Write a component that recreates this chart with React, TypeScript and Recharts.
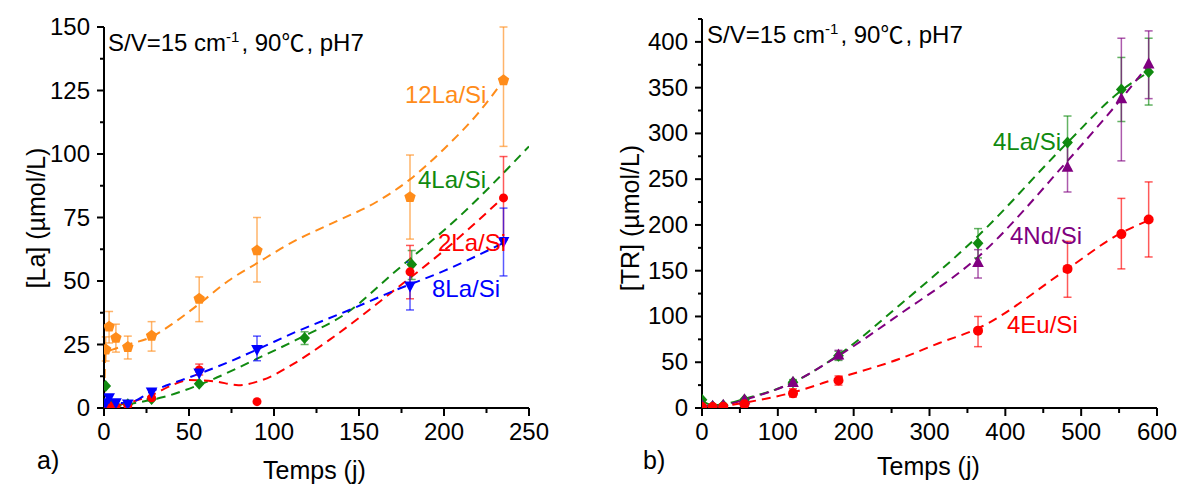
import React from "react";
import { ComposedChart, Line, Scatter, XAxis, YAxis, ErrorBar } from "recharts";

const FONT = "'Liberation Sans', Arial, sans-serif";

// ---- panel a) : [La] vs time ----
const aTicksX = [0, 25, 50, 75, 100, 125, 150, 175, 200, 225, 250];
const aMajorX = [0, 50, 100, 150, 200, 250];
const aTicksY = [0, 12.5, 25, 37.5, 50, 62.5, 75, 87.5, 100, 112.5, 125, 137.5, 150];
const aMajorY = [0, 25, 50, 75, 100, 125, 150];

const la12T = [0, 1, 3, 7, 14, 28, 56, 90, 180, 235];
const la12V = [1, 23, 32, 27.6, 24, 28.4, 43, 62, 83, 129];
const la12Lo = [null, 18.5, 25.6, 22, 19.3, 22.4, 34, 49.6, 66.5, 103];
const la12Hi = [null, 28, 38, 33, 28.3, 34, 51.6, 75, 99.6, 150];

const la4T = [1, 3, 7, 14, 28, 56, 118, 181];
const la4V = [8.7, 2, 1, 1.5, 3.5, 9.5, 27.6, 56.5];
const la4Lo = [null, null, null, null, null, null, 25, 50.6];
const la4Hi = [null, null, null, null, null, null, 30, 62];

const la2T = [1, 3, 7, 14, 28, 56, 90, 180, 235];
const la2V = [1, 1, 0.5, 1, 4, 15, 2.5, 53.6, 82.7];
const la2Lo = [null, null, null, null, null, 13, null, 43, 66];
const la2Hi = [null, null, null, null, null, 17.3, null, 64, 99];

const la8T = [1, 3, 7, 14, 28, 56, 90, 180, 235];
const la8V = [2, 4, 2, 1.6, 6.3, 13.8, 23, 48, 65.5];
const la8Lo = [null, null, null, null, null, null, 18.6, 38.6, 52];
const la8Hi = [null, null, null, null, null, null, 28.3, 57.4, 78.7];

// fitted curves
const fit12T = [0, 1, 5, 14, 28, 40, 56, 73, 90, 110, 135, 160, 180, 200, 220, 235];
const fit12V = [0, 22, 23, 25, 28, 33, 41, 50, 57, 65, 73, 81, 90, 102, 116, 129];
const fit4T = [5, 14, 35, 60, 91, 113, 144, 170, 210, 250];
const fit4V = [0.5, 1.5, 4.3, 10.2, 19.7, 26.8, 38, 53, 76, 103];
const fit2T = [0, 7, 14, 28, 40, 50, 65, 79, 93, 113, 133, 170, 200, 235];
const fit2V = [0, 1, 2, 5, 9, 11, 10.5, 9, 11, 18, 27, 46, 62, 83];
const fit8T = [2, 7, 14, 28, 56, 73, 90, 113, 144, 170, 200, 235];
const fit8V = [4, 2, 2, 6.5, 13.5, 18, 23, 30, 38.5, 46, 54, 65];

// ---- panel b) : [TR] vs time ----
const bTicksX = [0, 50, 100, 150, 200, 250, 300, 350, 400, 450, 500, 550, 600];
const bMajorX = [0, 100, 200, 300, 400, 500, 600];
const bTicksY = [0, 25, 50, 75, 100, 125, 150, 175, 200, 225, 250, 275, 300, 325, 350, 375, 400, 425];
const bMajorY = [0, 50, 100, 150, 200, 250, 300, 350, 400];

const b4LaT = [0, 14, 28, 56, 120, 180, 364, 482, 553, 589];
const b4LaV = [9, 2, 3, 9, 28, 57, 180, 290, 348, 367];
const b4LaLo = [null, null, null, null, 25, 52, 164, 261, 313, 331];
const b4LaHi = [null, null, null, null, 31, 62, 196, 319, 383, 404];

const b4NdT = [0, 14, 28, 56, 120, 180, 364, 482, 553, 589];
const b4NdV = [3, 2, 3, 9, 28, 58, 159, 263, 338, 376];
const b4NdLo = [null, null, null, null, null, 53, 142, 236, 270, 338];
const b4NdHi = [null, null, null, null, null, 63, 173, 290, 404, 412];

const b4EuT = [0, 14, 28, 56, 120, 180, 364, 482, 553, 589];
const b4EuV = [1, 1, 1.5, 4, 16, 30, 84.5, 152, 190, 206];
const b4EuLo = [null, null, null, null, 12, 25, 67, 121, 152, 165];
const b4EuHi = [null, null, null, null, 21, 35, 100, 182, 229, 247];

const fbLaT = [0, 14, 28, 56, 120, 180, 260, 364, 482, 550, 589];
const fbLaV = [8, 3, 4, 10, 28, 58, 112, 188, 290, 345, 367];
const fbNdT = [0, 14, 28, 56, 120, 180, 260, 364, 482, 550, 589];
const fbNdV = [3, 2, 3, 9, 28, 57, 102, 165, 270, 335, 375];
const fbEuT = [40, 115, 181, 260, 313, 364, 482, 550, 589];
const fbEuV = [3.5, 16, 33, 53.5, 71, 87, 152, 190, 205];

const ORANGE = "#FF8C1A";
const GREEN = "#108A10";
const RED = "#FF0000";
const BLUE = "#0000FF";
const PURPLE = "#800080";

type Pt = { t: number; v: number; err?: [number, number] };

const points = (t: number[], v: number[], lo?: (number | null)[], hi?: (number | null)[]): Pt[] =>
  t.map((tt, i) => {
    const p: Pt = { t: tt, v: v[i] };
    if (lo && hi && lo[i] != null && hi[i] != null) p.err = [v[i] - (lo[i] as number), (hi[i] as number) - v[i]];
    return p;
  });

const curve = (t: number[], v: number[]) => t.map((tt, i) => ({ t: tt, v: v[i] }));

const marker = (kind: string, color: string, r: number) => (props: any) => {
  const { cx, cy } = props;
  if (cx == null || cy == null) return <g />;
  if (kind === "circle") return <circle cx={cx} cy={cy} r={r} fill={color} />;
  let pts: number[][] = [];
  if (kind === "pentagon") {
    for (let k = 0; k < 5; k++) {
      const a = (-90 + 72 * k) * Math.PI / 180;
      pts.push([cx + r * Math.cos(a), cy + r * Math.sin(a)]);
    }
  } else if (kind === "diamond") {
    pts = [[cx, cy - r], [cx + r * 0.9, cy], [cx, cy + r], [cx - r * 0.9, cy]];
  } else if (kind === "up") {
    pts = [[cx, cy - r], [cx + r * 0.9, cy + r * 0.7], [cx - r * 0.9, cy + r * 0.7]];
  } else {
    pts = [[cx, cy + r], [cx + r * 0.9, cy - r * 0.7], [cx - r * 0.9, cy - r * 0.7]];
  }
  return <polygon points={pts.map((p) => p.join(",")).join(" ")} fill={color} />;
};

const yTick = (majors: number[]) => (props: any) => {
  const { x, y, payload } = props;
  const major = majors.includes(payload.value);
  return (
    <g>
      <line x1={x} x2={x - (major ? 7 : 4)} y1={y} y2={y} stroke="#000" strokeWidth={2} />
      {major && (
        <text x={x - 14} y={y} dy={8} textAnchor="end" fontSize={24} fontFamily={FONT} fill="#000">
          {payload.value}
        </text>
      )}
    </g>
  );
};

const xTick = (majors: number[]) => (props: any) => {
  const { x, y, payload } = props;
  const major = majors.includes(payload.value);
  return (
    <g>
      <line x1={x} x2={x} y1={y} y2={y + (major ? 8 : 5)} stroke="#000" strokeWidth={2} />
      {major && (
        <text x={x} y={y} dy={32} textAnchor="middle" fontSize={24} fontFamily={FONT} fill="#000">
          {payload.value}
        </text>
      )}
    </g>
  );
};

const dash = "9 6";

const Txt = ({ x, y, color = "#000", size = 25, children }: any) => (
  <div style={{ position: "absolute", left: x, top: y, color, fontSize: size, fontFamily: FONT, whiteSpace: "nowrap", lineHeight: 1 }}>
    {children}
  </div>
);

const VTxt = ({ cx, cy, children }: any) => (
  <div
    style={{
      position: "absolute", left: cx, top: cy, transform: "translate(-50%, -50%) rotate(-90deg)",
      fontSize: 25, fontFamily: FONT, whiteSpace: "nowrap", lineHeight: 1, color: "#000",
    }}
  >
    {children}
  </div>
);

const Note = () => (
  <>
    {"S/V=15 cm"}<sup style={{ fontSize: 15, marginRight: 2 }}>-1</sup>{", 90"}<span style={{ display: "inline-block", width: 25, textAlign: "left", fontFamily: "'Noto Sans CJK SC', sans-serif", fontSize: 23 }}>℃</span>{", pH7"}
  </>
);

const Series = ({ data, kind, color, r }: any) => (
  <Scatter data={data} shape={marker(kind, color, r)} fill={color} isAnimationActive={false}>
    <ErrorBar dataKey="err" direction="y" width={4} stroke={color} strokeOpacity={0.65} strokeWidth={1.5} />
  </Scatter>
);

export default function App() {
  const axisLine = { stroke: "#000", strokeWidth: 2 };
  return (
    <div style={{ position: "absolute", left: 0, top: 0, width: 1177, height: 486, background: "#fff", overflow: "hidden" }}>
      <div style={{ position: "absolute", left: 0, top: 0 }}>
        <ComposedChart width={560} height={486} margin={{ top: 27, right: 31, left: 44, bottom: 38 }}>
          <XAxis type="number" dataKey="t" domain={[0, 250]} ticks={aTicksX} interval={0} tickSize={0} tickMargin={0}
            tick={xTick(aMajorX)} axisLine={axisLine} tickLine={false} height={40} allowDataOverflow />
          <YAxis type="number" dataKey="v" domain={[0, 150]} ticks={aTicksY} interval={0} tickSize={0} tickMargin={0}
            tick={yTick(aMajorY)} axisLine={axisLine} tickLine={false} width={60} allowDataOverflow />
          <Line data={curve(fit12T, fit12V)} dataKey="v" type="monotone" dot={false} stroke={ORANGE} strokeWidth={2} strokeDasharray={dash} isAnimationActive={false} />
          <Line data={curve(fit4T, fit4V)} dataKey="v" type="monotone" dot={false} stroke={GREEN} strokeWidth={2} strokeDasharray={dash} isAnimationActive={false} />
          <Line data={curve(fit2T, fit2V)} dataKey="v" type="monotone" dot={false} stroke={RED} strokeWidth={2} strokeDasharray={dash} isAnimationActive={false} />
          <Line data={curve(fit8T, fit8V)} dataKey="v" type="monotone" dot={false} stroke={BLUE} strokeWidth={2} strokeDasharray={dash} isAnimationActive={false} />
          {Series({ data: points(la12T, la12V, la12Lo, la12Hi), kind: "pentagon", color: ORANGE, r: 6 })}
          {Series({ data: points(la4T, la4V, la4Lo, la4Hi), kind: "diamond", color: GREEN, r: 6 })}
          {Series({ data: points(la2T, la2V, la2Lo, la2Hi), kind: "circle", color: RED, r: 4.5 })}
          {Series({ data: points(la8T, la8V, la8Lo, la8Hi), kind: "down", color: BLUE, r: 6.5 })}
        </ComposedChart>
      </div>
      <div style={{ position: "absolute", left: 600, top: 0 }}>
        <ComposedChart width={577} height={486} margin={{ top: 19, right: 20, left: 42, bottom: 38 }}>
          <XAxis type="number" dataKey="t" domain={[0, 600]} ticks={bTicksX} interval={0} tickSize={0} tickMargin={0}
            tick={xTick(bMajorX)} axisLine={axisLine} tickLine={false} height={40} allowDataOverflow />
          <YAxis type="number" dataKey="v" domain={[0, 425]} ticks={bTicksY} interval={0} tickSize={0} tickMargin={0}
            tick={yTick(bMajorY)} axisLine={axisLine} tickLine={false} width={60} allowDataOverflow />
          <Line data={curve(fbLaT, fbLaV)} dataKey="v" type="monotone" dot={false} stroke={GREEN} strokeWidth={2} strokeDasharray={dash} isAnimationActive={false} />
          <Line data={curve(fbNdT, fbNdV)} dataKey="v" type="monotone" dot={false} stroke={PURPLE} strokeWidth={2} strokeDasharray={dash} isAnimationActive={false} />
          <Line data={curve(fbEuT, fbEuV)} dataKey="v" type="monotone" dot={false} stroke={RED} strokeWidth={2} strokeDasharray={dash} isAnimationActive={false} />
          {Series({ data: points(b4LaT, b4LaV, b4LaLo, b4LaHi), kind: "diamond", color: GREEN, r: 6 })}
          {Series({ data: points(b4NdT, b4NdV, b4NdLo, b4NdHi), kind: "up", color: PURPLE, r: 6.5 })}
          {Series({ data: points(b4EuT, b4EuV, b4EuLo, b4EuHi), kind: "circle", color: RED, r: 5 })}
        </ComposedChart>
      </div>

      <Txt x={108} y={29} size={24}><Note /></Txt>
      <Txt x={707} y={21} size={24}><Note /></Txt>

      <Txt x={405} y={83} color={ORANGE} size={24}>12La/Si</Txt>
      <Txt x={418} y={168} color={GREEN} size={24}>4La/Si</Txt>
      <Txt x={438} y={231} color={RED} size={24}>2La/Si</Txt>
      <Txt x={432} y={277} color={BLUE} size={24}>8La/Si</Txt>

      <Txt x={993} y={130} color={GREEN} size={24}>4La/Si</Txt>
      <Txt x={1010} y={224} color={PURPLE} size={24}>4Nd/Si</Txt>
      <Txt x={1007} y={313} color={RED} size={24}>4Eu/Si</Txt>

      <VTxt cx={36} cy={218}>[La] (µmol/L)</VTxt>
      <VTxt cx={630} cy={218}>[TR] (µmol/L)</VTxt>
      <Txt x={263} y={458}>Temps (j)</Txt>
      <Txt x={877} y={454}>Temps (j)</Txt>
      <Txt x={37} y={448}>a)</Txt>
      <Txt x={643} y={448}>b)</Txt>
    </div>
  );
}
